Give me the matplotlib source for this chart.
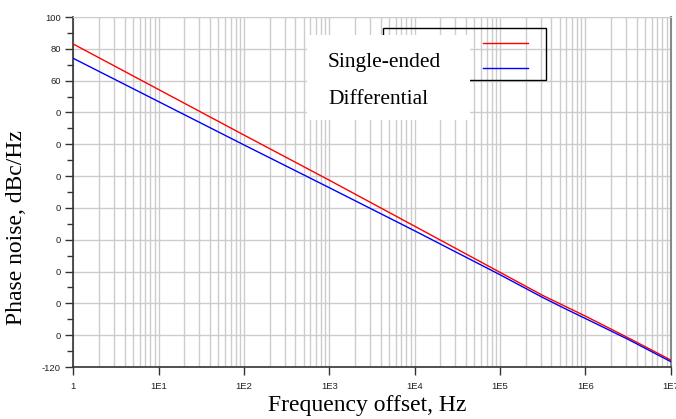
import matplotlib
matplotlib.use('Agg')
import matplotlib.pyplot as plt
import matplotlib.ticker as mtick
from matplotlib.lines import Line2D
from matplotlib.patches import Rectangle
import numpy as np

# phase noise readings (offset in Hz, dBc/Hz)
freq = [1, 1e1, 1e2, 1e3, 1e4, 1e5, 10**5.5, 10**5.75, 1e6, 10**6.5, 1e7]
single_ended = [83, 54.4, 25.8, -2.6, -31.5, -60.5, -75.0, -81.5, -88.0, -101.6, -115.6]
differential = [74, 46.8, 19.6, -7.3, -34.4, -62.0, -76.3, -83.0, -89.5, -102.6, -116.6]

series_names = ['Single-ended', 'Differential']
series_colors = ['#ff0000', '#0000ff']

yticks = list(range(-120, 101, 20))
ytick_labels = ['-120', '0', '0', '0', '0', '0', '0', '0', '0', '60', '80', '100']
xticks = [1, 1e1, 1e2, 1e3, 1e4, 1e5, 1e6, 1e7]
xtick_labels = ['1', '1E1', '1E2', '1E3', '1E4', '1E5', '1E6', '1E7']

W, H = 676, 419
fig = plt.figure(figsize=(W / 100, H / 100), dpi=100)
ax = fig.add_axes([73.3 / W, 1 - 367 / H, (670.7 - 73.3) / W, (367 - 17) / H])

ax.set_xscale('log')
ax.set_xlim(1, 1e7)
ax.set_ylim(-120, 100)

gridc = '#cccccc'
ax.xaxis.set_major_locator(mtick.FixedLocator(xticks))
ax.xaxis.set_major_formatter(mtick.FixedFormatter(xtick_labels))
ax.xaxis.set_minor_locator(mtick.LogLocator(base=10, subs=np.arange(2, 10), numticks=20))
ax.xaxis.set_minor_formatter(mtick.NullFormatter())
ax.yaxis.set_major_locator(mtick.FixedLocator(yticks))
ax.yaxis.set_major_formatter(mtick.FixedFormatter(ytick_labels))
ax.yaxis.set_minor_locator(mtick.MultipleLocator(10))

ax.grid(True, which='major', color=gridc, lw=1.0)
ax.grid(True, which='minor', axis='x', color=gridc, lw=1.0)
ax.set_axisbelow(True)

ax.tick_params(axis='both', which='major', direction='out', length=6, width=1,
               color='#333333', labelsize=6.8, labelcolor='#222222', pad=3,
               labelfontfamily='Liberation Sans')
ax.tick_params(axis='y', which='minor', direction='out', length=4, width=1, color='#333333')
ax.tick_params(axis='x', which='minor', length=0)
ax.tick_params(axis='x', which='major', pad=5)

for s in ['left', 'bottom']:
    ax.spines[s].set_color('#333333')
    ax.spines[s].set_linewidth(1.2)
ax.spines['top'].set_color(gridc)
ax.spines['right'].set_color('#888888')
ax.spines['right'].set_linewidth(1.5)

ax.plot(freq, single_ended, color=series_colors[0], lw=1.0, zorder=3)
ax.plot(freq, differential, color=series_colors[1], lw=1.0, zorder=3)

serif = 'Liberation Serif'
fig.text(367 / W, 1 - 405 / H, 'Frequency offset, Hz', ha='center', va='center',
         fontsize=17, family=serif)
fig.text(17 / W, 1 - 228 / H, 'Phase noise, dBc/Hz', ha='center', va='center',
         rotation=90, fontsize=17, family=serif)

# legend: outlined box with sample lines, labels on a white patch
def px(x, y):
    return x / W, 1 - y / H

x0, y0 = px(383, 80)
fig.add_artist(Rectangle((x0, y0), (546 - 383) / W, (80 - 28) / H, transform=fig.transFigure,
                         fill=False, edgecolor='black', lw=1.0, zorder=5))
for i, yy in enumerate([42.7, 67.7]):
    xa, ya = px(483, yy)
    xb, _ = px(528, yy)
    fig.add_artist(Line2D([xa, xb], [ya, ya], transform=fig.transFigure,
                          color=series_colors[i], lw=1.0, zorder=6))
wx, wy = px(307, 120)
fig.add_artist(Rectangle((wx, wy), (470 - 307) / W, (120 - 35) / H, transform=fig.transFigure,
                         facecolor='white', edgecolor='none', zorder=7))
for i, yy in enumerate([62, 99]):
    tx, ty = px(328, yy)
    fig.text(tx, ty, series_names[i], ha='left', va='center', fontsize=15.5,
             family=serif, zorder=8)

fig.savefig('out.png', dpi=100)
